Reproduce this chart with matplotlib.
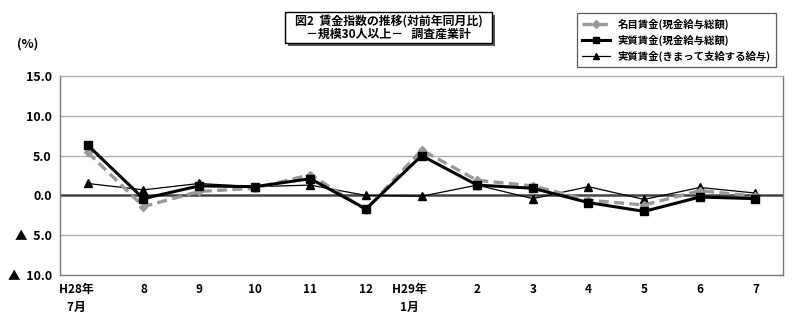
import numpy as np
import matplotlib
matplotlib.use('Agg')
import matplotlib.pyplot as plt
from matplotlib.patches import Rectangle

plt.rcParams['font.family'] = ['Noto Sans CJK JP', 'DejaVu Sans']

# data (対前年同月比, %)
months = ['H28年\n7月', '8', '9', '10', '11', '12', 'H29年\n1月',
          '2', '3', '4', '5', '6', '7']
nominal = [5.4, -1.4, 0.5, 0.9, 2.6, -1.8, 5.7, 1.9, 1.2, -0.6, -1.2, 0.6, -0.1]
real_total = [6.3, -0.4, 1.2, 1.1, 2.1, -1.7, 5.0, 1.3, 0.9, -0.9, -2.0, -0.2, -0.4]
real_sched = [1.5, 0.7, 1.5, 1.1, 1.3, 0.0, -0.1, 1.3, -0.4, 1.1, -0.5, 1.0, 0.3]

yticks = [15, 10, 5, 0, -5, -10]
ytick_labels = ['15.0', '10.0', '5.0', '0.0', '▲  5.0', '▲  10.0']

fig = plt.figure(figsize=(8, 3.18), dpi=100)
ax = fig.add_axes([0.075, 0.135, 0.904, 0.626])

x = np.arange(len(months))
ax.plot(x, nominal, color='#999999', lw=2.4, ls=(0, (3, 1.6)), marker='D',
        ms=4, mfc='#999999', mec='#999999', label='名目賃金(現金給与総額)', zorder=3)
ax.plot(x, real_total, color='black', lw=2.2, marker='s', ms=6,
        label='実質賃金(現金給与総額)', zorder=4)
ax.plot(x, real_sched, color='black', lw=0.9, marker='^', ms=6,
        label='実質賃金(きまって支給する給与)', zorder=2)

ax.set_xlim(-0.5, len(months) - 0.5)
ax.set_ylim(-10, 15)
ax.set_yticks(yticks)
ax.set_yticklabels(ytick_labels, fontsize=9, fontweight='bold')
ax.set_xticks(x)
# year labels sit a little left of their tick: pad them with wide spaces
xlabels = [m.replace('\n', '\u3000\u3000\n') + '\u3000\u3000' if '\n' in m else m
           for m in months]
ax.set_xticklabels(xlabels, fontsize=8.5, fontweight='bold', linespacing=1.5)
ax.tick_params(length=0, pad=6)
for v in [5, 10, -5]:
    ax.axhline(v, color='#aaaaaa', lw=0.9, zorder=1)
ax.axhline(0, color='#444444', lw=1.8, zorder=1)
for s in ['left', 'bottom', 'right']:
    ax.spines[s].set_color('#777777')
    ax.spines[s].set_linewidth(1.0)
ax.spines['top'].set_color('#aaaaaa')
ax.spines['top'].set_linewidth(0.9)

fig.text(0.035, 0.85, '(%)', fontsize=9, fontweight='bold', ha='center')

# title box with shadow
bx0, by0, bw, bh = 285 / 800, 1 - 43 / 318, 207 / 800, 31 / 318
fig.patches.append(Rectangle((bx0 + 2.5 / 800, by0 - 2.5 / 318), bw, bh,
                             transform=fig.transFigure, fc='#555555', ec='none'))
fig.patches.append(Rectangle((bx0, by0), bw, bh, transform=fig.transFigure,
                             fc='white', ec='black', lw=1.0))
fig.text(bx0 + bw / 2, by0 + bh * 0.72, '図2  賃金指数の推移(対前年同月比)',
         ha='center', va='center', fontsize=8.6, fontweight='bold')
fig.text(bx0 + bw / 2, by0 + bh * 0.27, '－規模30人以上－   調査産業計',
         ha='center', va='center', fontsize=8.6, fontweight='bold')

leg = fig.legend(loc='upper left', bbox_to_anchor=(572 / 800, 1 - 8 / 318),
                 frameon=True, fancybox=False, edgecolor='#333333',
                 handlelength=2.6, labelspacing=0.45, borderpad=0.5,
                 prop={'weight': 'bold', 'size': 7.5})
leg.get_frame().set_linewidth(0.9)
for h in leg.legend_handles:
    h.set_markersize(4)

fig.savefig('out.png', dpi=100)
